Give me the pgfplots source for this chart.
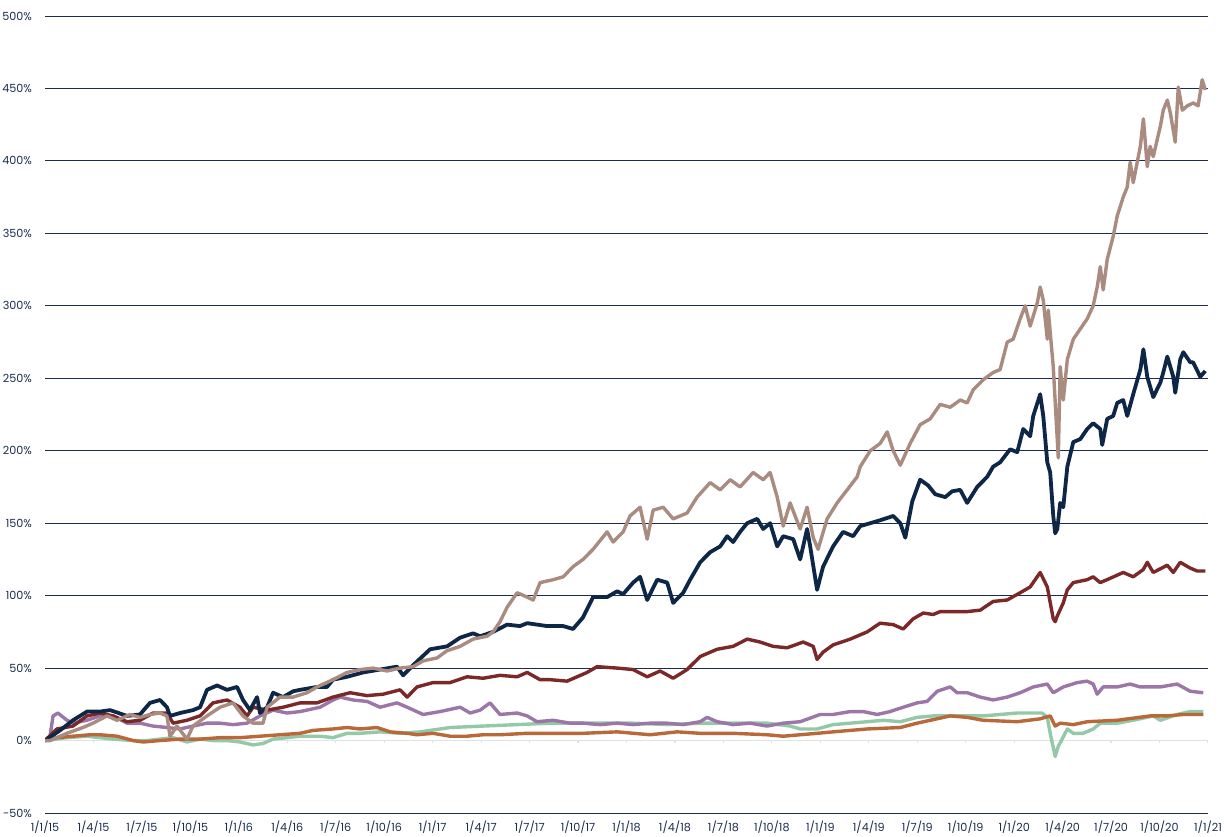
\documentclass[border=0pt]{standalone}
\usepackage{pgfplots}
\pgfplotsset{compat=1.18}
\usepackage{fontspec}
\setmainfont{Poppins}
\definecolor{cnavy}{HTML}{0F2747}
\definecolor{ctaupe}{HTML}{A98B80}
\definecolor{cmaroon}{HTML}{7B2828}
\definecolor{cpurple}{HTML}{9B76A6}
\definecolor{cgreen}{HTML}{93C9A9}
\definecolor{corange}{HTML}{B9683A}
\definecolor{cgrid}{HTML}{1B2D4F}
\definecolor{czero}{HTML}{DDE1E8}
\begin{document}
\begin{tikzpicture}
\useasboundingbox (-22.5pt,-11.5pt) rectangle (589.5pt,406.5pt);
\begin{axis}[
  scale only axis, width=581.5pt, height=398.5pt,
  xmin=0, xmax=72, ymin=-50, ymax=500,
  axis line style={draw=none},
  major tick length=0pt,
  xtick={0,3,...,72},
  xticklabels={1/1/15,1/4/15,1/7/15,1/10/15,1/1/16,1/4/16,1/7/16,1/10/16,1/1/17,1/4/17,1/7/17,1/10/17,1/1/18,1/4/18,1/7/18,1/10/18,1/1/19,1/4/19,1/7/19,1/10/19,1/1/20,1/4/20,1/7/20,1/10/20,1/1/21},
  ytick={-50,0,...,500},
  yticklabels={-50\%,0\%,50\%,100\%,150\%,200\%,250\%,300\%,350\%,400\%,450\%,500\%},
  ymajorgrids, grid style={cgrid, line width=0.5pt},
  tick label style={font=\fontsize{5.6}{6.5}\selectfont, text=cgrid},
  yticklabel style={xshift=-3pt},
  xticklabel style={yshift=-0.5pt},
  line join=round,
  every axis plot/.append style={line width=1.7pt},
]
\addplot[czero, line width=0.9pt, forget plot] coordinates {(0,0) (72,0)};
\addplot[czero, line width=0.6pt, ycomb, forget plot] coordinates {(0,-2) (3,-2) (6,-2) (9,-2) (12,-2) (15,-2) (18,-2) (21,-2) (24,-2) (27,-2) (30,-2) (33,-2) (36,-2) (39,-2) (42,-2) (45,-2) (48,-2) (51,-2) (54,-2) (57,-2) (60,-2) (63,-2) (66,-2) (69,-2) (72,-2)};
% green
\addplot[cgreen] coordinates {(0,0) (1.36,2) (2.60,3) (3.41,2) (4.21,1) (5.45,0) (6.32,0) (7.12,1) (7.93,2) (8.79,-1) (9.60,1) (10.40,0) (11.27,0) (12.07,-1) (12.88,-3) (13.50,-2) (14.12,1) (14.98,2) (15.79,3) (17.03,3) (17.83,2) (18.70,5) (19.50,5) (20.74,6) (21.98,5) (23.22,6) (25.08,9) (27.12,10) (29.23,11) (31.27,12) (33.31,12) (36.41,12) (38.52,11) (40.56,12) (42.60,12) (44.70,12) (46.13,10) (46.75,8) (47.80,8) (48.79,11) (49.85,12) (50.90,13) (51.89,14) (52.95,13) (53.99,16) (54.99,17) (56.04,17) (57.09,17) (58.08,17) (59.13,18) (60.19,19) (61.18,19) (61.73,19) (62.05,16) (62.23,5) (62.54,-11) (62.73,-4) (62.97,1) (63.29,8) (63.66,5) (64.27,5) (64.89,8) (65.33,12) (66.38,12) (67.37,14) (68.61,17) (69.05,14) (70.09,18) (70.90,20) (71.71,20)};
% orange
\addplot[corange] coordinates {(0,0) (0.74,2) (1.73,3) (2.79,4) (3.41,4) (4.46,3) (5.45,0) (6.07,-1) (7.12,0) (8.36,1) (9.60,1) (10.84,2) (12.07,2) (13.31,3) (14.55,4) (15.79,5) (16.59,7) (17.83,8) (18.70,9) (19.50,8) (20.56,9) (21.36,6) (22.42,5) (23.03,4) (24.02,5) (25.08,3) (26.13,3) (27.12,4) (28.17,4) (29.85,5) (31.27,5) (33.31,5) (35.42,6) (37.46,4) (39.13,6) (40.56,5) (42.60,5) (44.70,4) (45.70,3) (47.80,5) (48.79,6) (50.90,8) (52.95,9) (53.99,12) (56.04,17) (57.09,16) (58.08,14) (60.19,13) (61.61,15) (62.23,17) (62.54,10) (62.85,12) (63.66,11) (64.52,13) (66.38,14) (68.42,17) (69.48,17) (70.47,18) (71.71,18)};
% purple
\addplot[cpurple] coordinates {(0,0) (0.31,3) (0.50,17) (0.80,19) (1.36,14) (1.73,12) (2.60,14) (3.41,17) (4.21,17) (5.08,12) (5.88,12) (6.69,10) (7.55,9) (8.36,8) (9.16,10) (10.03,12) (10.84,12) (11.64,11) (12.51,12) (13.31,17) (14.12,21) (14.98,19) (15.79,20) (17.03,23) (17.83,28) (18.27,30) (19.07,28) (19.94,27) (20.74,23) (21.79,26) (22.42,23) (23.41,18) (24.46,20) (25.70,23) (26.32,19) (26.94,21) (27.55,26) (28.17,18) (29.23,19) (29.85,17) (30.46,13) (31.46,14) (32.51,12) (33.31,12) (34.37,11) (35.42,12) (36.41,11) (37.46,12) (38.52,12) (39.51,11) (40.56,13) (40.99,16) (41.61,13) (42.60,11) (43.65,12) (44.70,10) (45.70,12) (46.75,13) (47.99,18) (48.79,18) (49.85,20) (50.65,20) (51.52,18) (52.32,20) (53.13,23) (53.99,26) (54.61,27) (55.23,34) (56.04,37) (56.47,33) (57.09,33) (57.90,30) (58.70,28) (59.57,30) (60.37,33) (61.18,37) (62.05,39) (62.42,33) (63.04,37) (63.90,40) (64.52,41) (64.89,39) (65.14,32) (65.51,37) (66.38,37) (67.18,39) (67.80,37) (69.04,37) (70.09,39) (70.90,34) (71.71,33)};
% maroon
\addplot[cmaroon] coordinates {(0,0) (0.74,8) (1.73,10) (2.60,17) (3.41,19) (4.21,17) (5.08,13) (5.88,14) (6.69,19) (7.55,19) (7.93,12) (8.79,14) (9.60,17) (10.40,26) (11.27,28) (12.07,23) (12.51,17) (12.88,23) (13.75,21) (14.74,23) (15.79,26) (16.84,26) (17.83,30) (18.89,33) (19.94,31) (20.93,32) (21.98,35) (22.42,30) (23.03,37) (24.02,40) (25.08,40) (26.13,44) (27.12,43) (28.17,45) (29.23,44) (29.85,47) (30.65,42) (31.27,42) (32.32,41) (32.94,44) (33.56,47) (34.18,51) (35.42,50) (36.41,49) (37.28,44) (38.08,48) (38.89,43) (39.75,49) (40.56,58) (41.61,63) (42.60,65) (43.47,70) (44.27,68) (45.08,65) (45.94,64) (46.94,68) (47.56,65) (47.80,56) (48.17,61) (48.79,66) (49.85,70) (50.90,75) (51.70,81) (52.51,80) (53.13,77) (53.75,84) (54.37,88) (54.99,87) (55.42,89) (56.22,89) (57.09,89) (57.90,90) (58.70,96) (59.57,97) (60.37,102) (60.99,106) (61.61,116) (62.05,106) (62.42,84) (62.54,82) (62.67,86) (63.04,95) (63.29,104) (63.66,109) (64.52,111) (64.89,113) (65.33,109) (65.95,112) (66.75,116) (67.37,113) (67.99,118) (68.24,123) (68.61,116) (69.48,121) (69.85,116) (70.28,123) (70.90,119) (71.33,117) (71.83,117)};
% navy
\addplot[cnavy, line width=1.9pt] coordinates {(0,0) (0.93,7) (1.73,14) (2.60,20) (3.41,20) (4.03,21) (5.08,17) (5.88,18) (6.50,26) (7.12,28) (7.55,23) (7.74,17) (8.36,19) (9.16,21) (9.60,23) (10.03,35) (10.65,38) (11.27,35) (11.89,37) (12.26,28) (12.69,21) (13.13,30) (13.31,19) (13.75,23) (14.12,33) (14.74,30) (15.36,34) (15.79,35) (16.84,37) (17.46,37) (17.83,42) (18.70,44) (19.69,47) (20.74,49) (21.79,51) (22.17,45) (22.79,52) (23.84,63) (24.89,65) (25.70,71) (26.50,74) (26.94,72) (27.74,75) (28.61,80) (29.41,79) (29.85,81) (31.09,79) (32.08,79) (32.69,77) (33.31,85) (33.93,99) (34.80,99) (35.42,103) (35.79,101) (36.41,109) (36.84,113) (37.28,97) (37.90,111) (38.52,109) (38.89,95) (39.51,102) (39.94,111) (40.56,123) (41.18,130) (41.80,134) (42.23,141) (42.60,137) (43.03,144) (43.47,150) (44.09,153) (44.46,146) (44.89,150) (45.33,134) (45.70,141) (46.32,139) (46.75,125) (47.18,146) (47.37,134) (47.80,104) (48.17,120) (48.79,134) (49.41,144) (50.03,141) (50.47,148) (51.09,150) (51.70,152) (52.51,155) (52.95,150) (53.26,140) (53.69,165) (54.18,180) (54.68,176) (55.11,170) (55.73,168) (56.16,172) (56.66,173) (57.09,164) (57.71,175) (58.33,182) (58.70,189) (59.13,192) (59.75,201) (60.19,199) (60.56,215) (60.99,210) (61.18,224) (61.61,239) (61.80,224) (62.05,192) (62.23,185) (62.42,155) (62.54,143) (62.67,146) (62.85,164) (63.04,161) (63.29,189) (63.66,206) (64.09,208) (64.52,215) (64.89,219) (65.33,215) (65.45,204) (65.76,222) (66.13,224) (66.38,233) (66.75,235) (67.00,224) (67.37,239) (67.81,256) (68.00,270) (68.24,251) (68.61,237) (69.05,247) (69.23,254) (69.48,265) (69.85,251) (69.97,240) (70.28,263) (70.47,268) (70.90,261) (71.08,261) (71.52,251) (71.83,255)};
% taupe
\addplot[ctaupe] coordinates {(0,0) (0.31,0) (1.36,5) (2.35,9) (2.97,12) (3.84,17) (4.46,14) (5.26,18) (5.88,16) (6.50,18) (7.12,19) (7.55,17) (7.74,3) (8.17,10) (8.79,1) (9.16,10) (10.03,17) (10.84,23) (11.64,26) (12.26,17) (12.88,12) (13.50,12) (13.75,23) (14.55,30) (15.36,30) (16.22,33) (16.84,37) (17.83,42) (18.70,47) (19.50,49) (20.31,50) (21.18,48) (21.98,50) (22.79,51) (23.41,55) (24.27,57) (24.89,62) (25.70,65) (26.50,70) (27.37,72) (27.74,75) (28.17,82) (28.61,92) (29.23,102) (29.85,99) (30.22,97) (30.65,109) (31.46,111) (32.08,113) (32.69,120) (33.31,125) (33.93,132) (34.80,144) (35.17,137) (35.79,144) (36.22,155) (36.84,161) (37.28,139) (37.65,159) (38.27,161) (38.89,153) (39.75,157) (40.37,168) (41.18,178) (41.80,173) (42.42,180) (43.03,175) (43.84,185) (44.46,180) (44.89,185) (45.33,168) (45.70,148) (46.13,164) (46.75,146) (47.18,161) (47.56,140) (47.86,132) (48.42,153) (49.04,164) (49.66,173) (50.28,182) (50.47,189) (51.09,200) (51.70,205) (52.14,213) (52.51,200) (52.95,190) (53.56,205) (54.18,218) (54.80,222) (55.42,232) (56.04,230) (56.66,235) (57.09,233) (57.46,242) (58.08,249) (58.70,254) (59.13,256) (59.57,275) (59.94,277) (60.37,291) (60.68,300) (60.99,286) (61.43,302) (61.61,313) (61.80,304) (62.05,277) (62.11,297) (62.42,258) (62.73,195) (62.85,258) (63.04,235) (63.29,263) (63.66,277) (64.09,284) (64.52,291) (64.89,300) (65.14,313) (65.33,327) (65.51,311) (65.76,332) (66.13,348) (66.38,362) (66.75,375) (67.00,382) (67.18,399) (67.37,385) (67.81,410) (68.00,429) (68.24,396) (68.42,410) (68.61,403) (69.05,424) (69.23,435) (69.48,442) (69.67,433) (69.97,413) (70.16,451) (70.41,435) (70.72,438) (71.08,440) (71.39,438) (71.64,456) (71.83,449)};
\end{axis}
\end{tikzpicture}
\end{document}
